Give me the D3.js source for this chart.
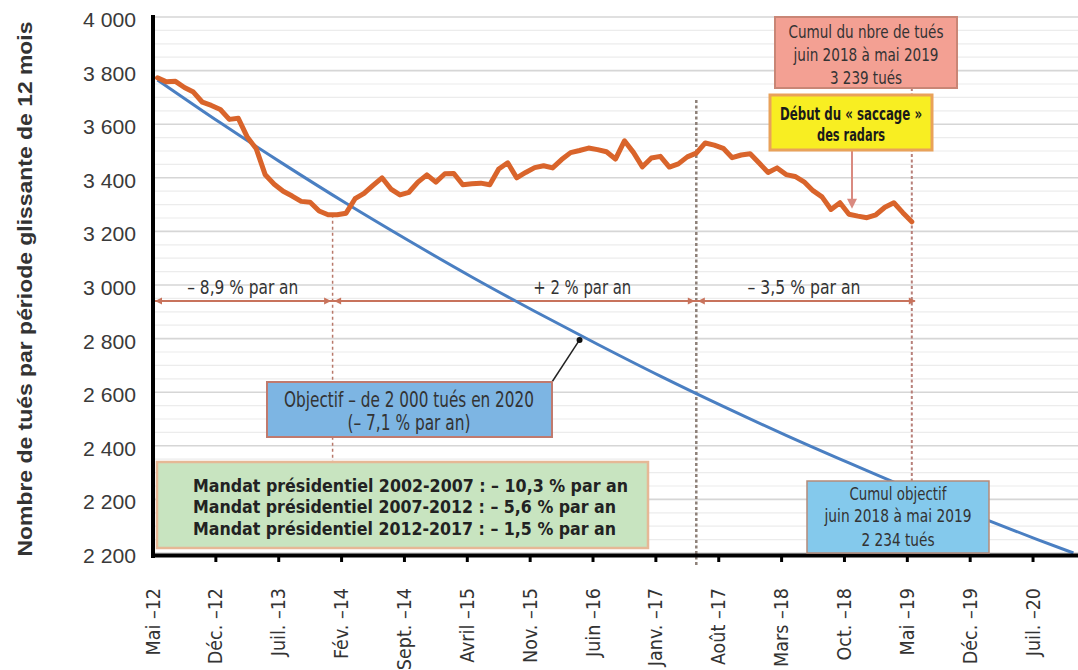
<!DOCTYPE html>
<html><head><meta charset="utf-8">
<script src="https://cdn.jsdelivr.net/npm/d3@7"></script>
<style>body{margin:0;background:#fff;} svg{display:block;}</style>
</head><body>
<script>
// ---------------- DATA ----------------
const categoryCount = 103; // Mai-12 .. Nov-20 (monthly categories)
const tickCategories = [0,7,14,21,28,35,42,49,56,63,70,77,84,91,98];
const tickLabels = ["Mai –12","Déc. –12","Juil. –13","Fév. –14","Sept. –14","Avril –15","Nov. –15","Juin –16","Janv. –17","Août –17","Mars –18","Oct. –18","Mai –19","Déc. –19","Juil. –20"];
const yTickValues = [4000,3800,3600,3400,3200,3000,2800,2600,2400,2200,2000];
const yTickLabels = ["4 000","3 800","3 600","3 400","3 200","3 000","2 800","2 600","2 400","2 200","2 200"];
// rolling 12-month number of road deaths, Mai-12 .. Mai-19
const tues = [3773,3758,3760,3737,3720,3682,3670,3655,3618,3622,3552,3508,3411,3376,3350,3332,3312,3309,3276,3262,
  3262,3268,3322,3342,3372,3400,3358,3336,3346,3384,3411,3384,3415,3416,3374,3378,3380,3374,3433,3456,
  3400,3420,3438,3445,3437,3468,3494,3502,3511,3505,3497,3470,3538,3495,3441,3474,3480,3440,3452,3478,
  3492,3530,3522,3510,3475,3485,3490,3455,3420,3437,3412,3405,3385,3352,3329,3282,3307,3264,3257,3251,
  3262,3290,3307,3270,3236];
// objective trajectory (– 7,1 % par an)
const objectifCategories = [0,7,14,21,28,35,42,49,56,63,70,77,84,91,98,102];
const objectifValues = [3765,3605,3452,3305,3165,3030,2902,2779,2660,2547,2439,2336,2236,2141,2050,2000];
// rate segments
const segmentBounds = [0,20,60.5,84.5];
const segmentLabelAt = [10,47.8,72.5];
const segmentLabels = ["– 8,9 % par an","+ 2 % par an","– 3,5 % par an"];
const mandatLines = ["Mandat présidentiel 2002-2007 : – 10,3 % par an","Mandat présidentiel 2007-2012 : – 5,6 % par an","Mandat présidentiel 2012-2017 : – 1,5 % par an"];
const cumulTuesLines = ["Cumul du nbre de tués","juin 2018 à mai 2019","3 239 tués"];
const saccageLines = ["Début du « saccage »","des radars"];
const objectifLines = ["Objectif – de 2 000 tués en 2020","(– 7,1 % par an)"];
const cumulObjLines = ["Cumul objectif","juin 2018 à mai 2019","2 234 tués"];

// ---------------- CHART ----------------
const W = 1078, H = 670;
const NARROW = "'Liberation Sans Narrow','DejaVu Sans Condensed','Arial Narrow',sans-serif";
const REG = "'Liberation Sans',Arial,sans-serif";
const svg = d3.select("body").append("svg").attr("width", W).attr("height", H);

const x = d3.scaleLinear().domain([0, categoryCount]).range([153, 153 + 8.98 * categoryCount]);
const xc = i => x(i + 0.5);
const y = d3.scaleLinear().domain([2000, 4000]).range([553, 17]);

// gridlines
const grid = svg.append("g");
d3.range(2000, 4001, 50).forEach(v => {
  const major = v % 200 === 0;
  grid.append("line").attr("x1", 155).attr("x2", W).attr("y1", y(v)).attr("y2", y(v))
    .attr("stroke", major ? "#d6d6d6" : "#ececec").attr("stroke-width", major ? 1.6 : 1.2);
});

function addText(g, px, py, str, o) {
  const t = g.append("text").attr("x", px).attr("y", py).text(str)
    .attr("font-family", o.family || NARROW).attr("font-size", o.size)
    .attr("font-weight", o.weight || "normal").attr("fill", o.fill || "#333")
    .attr("text-anchor", o.anchor || "middle").attr("dominant-baseline", "central");
  if (o.len) t.attr("textLength", o.len).attr("lengthAdjust", "spacingAndGlyphs");
  return t;
}

// y tick labels
yTickValues.forEach((v, k) => addText(svg, 136, y(v) + 3, yTickLabels[k], {size: 20, anchor: "end", family: REG, fill: "#3a3a3a", len: 53}));

// y title
svg.append("text").attr("transform", `translate(24,${289}) rotate(-90)`)
  .attr("text-anchor", "middle").attr("dominant-baseline", "central")
  .attr("font-family", REG).attr("font-weight", "bold").attr("font-size", 21).attr("fill", "#333")
  .attr("textLength", 535).attr("lengthAdjust", "spacingAndGlyphs")
  .text("Nombre de tués par période glissante de 12 mois");

// dashed verticals
const dashed = svg.append("g");
dashed.append("line").attr("x1", x(segmentBounds[1])).attr("x2", x(segmentBounds[1])).attr("y1", y(3262)).attr("y2", 462)
  .attr("stroke", "#b8786a").attr("stroke-width", 1.5).attr("stroke-dasharray", "3,3");
dashed.append("line").attr("x1", x(segmentBounds[2])).attr("x2", x(segmentBounds[2])).attr("y1", 100).attr("y2", 566)
  .attr("stroke", "#8d8078").attr("stroke-width", 2.5).attr("stroke-dasharray", "3,2.5");
dashed.append("line").attr("x1", x(segmentBounds[3])).attr("x2", x(segmentBounds[3])).attr("y1", 88).attr("y2", 481)
  .attr("stroke", "#b8807a").attr("stroke-width", 2).attr("stroke-dasharray", "3,2.5");

// rate arrow line
const arrowY = 301, AC = "#c8735c";
const ag = svg.append("g");
ag.append("line").attr("x1", 155).attr("x2", x(segmentBounds[3]) + 3).attr("y1", arrowY).attr("y2", arrowY)
  .attr("stroke", AC).attr("stroke-width", 2);
function head(tip, dir) {
  ag.append("path").attr("d", `M${tip},${arrowY} L${tip - dir * 7},${arrowY - 3.5} L${tip - dir * 7},${arrowY + 3.5}Z`).attr("fill", AC);
}
head(155, -1);
head(x(segmentBounds[1]) - 1.5, 1); head(x(segmentBounds[1]) + 1.5, -1);
head(x(segmentBounds[2]) - 1.5, 1); head(x(segmentBounds[2]) + 1.5, -1);
head(x(segmentBounds[3]) + 4, 1);
segmentLabels.forEach((s, k) => addText(svg, x(segmentLabelAt[k]), 287, s, {size: 20, len: [111, 98, 113][k]}));

// lines
const lineObj = d3.line().x((d, k) => xc(objectifCategories[k])).y(d => y(d)).curve(d3.curveMonotoneX);
svg.append("path").attr("d", lineObj(objectifValues)).attr("fill", "none")
  .attr("stroke", "#4a7fc2").attr("stroke-width", 3);
const lineTues = d3.line().x((d, i) => xc(i)).y(d => y(d));
svg.append("path").attr("d", lineTues(tues)).attr("fill", "none")
  .attr("stroke", "#d9642b").attr("stroke-width", 5).attr("stroke-linejoin", "round").attr("stroke-linecap", "round");

// axes
svg.append("line").attr("x1", 153).attr("x2", 153).attr("y1", 15).attr("y2", 558).attr("stroke", "#000").attr("stroke-width", 4);
svg.append("line").attr("x1", 151).attr("x2", W).attr("y1", 555.5).attr("y2", 555.5).attr("stroke", "#000").attr("stroke-width", 4);
tickCategories.forEach((c, k) => {
  if (c > 0) svg.append("line").attr("x1", x(c)).attr("x2", x(c)).attr("y1", 555).attr("y2", 562).attr("stroke", "#000").attr("stroke-width", 3);
  svg.append("text").attr("transform", `translate(${x(c)},588) rotate(-90)`)
    .attr("text-anchor", "end").attr("dominant-baseline", "central")
    .attr("font-family", NARROW).attr("font-size", 19.5).attr("fill", "#333").text(tickLabels[k]);
});

// boxes
function box(x0, y0, x1, y1, fill, stroke, sw) {
  svg.append("rect").attr("x", x0).attr("y", y0).attr("width", x1 - x0).attr("height", y1 - y0)
    .attr("fill", fill).attr("stroke", stroke).attr("stroke-width", sw);
}
// objective leader
svg.append("line").attr("x1", 552).attr("y1", 382).attr("x2", xc(47)).attr("y2", y(2795)).attr("stroke", "#222").attr("stroke-width", 1.5);
svg.append("circle").attr("cx", xc(47)).attr("cy", y(2795)).attr("r", 3).attr("fill", "#111");

box(267, 382, 552, 437, "#7db5e3", "#c07a6e", 2);
addText(svg, 409, 400, objectifLines[0], {size: 21, len: 250});
addText(svg, 409, 423, objectifLines[1], {size: 21, len: 123});

box(157, 462, 648, 548, "#c8e4c0", "#e6b896", 2.5);
mandatLines.forEach((s, k) => addText(svg, 193, 485 + k * 21.5, s, {size: 18.5, weight: "bold", anchor: "start", fill: "#222", len: [435, 423, 423][k]}));

box(775, 17, 957, 88, "#f3a093", "#c98676", 2);
cumulTuesLines.forEach((s, k) => addText(svg, 866, [31.7, 54, 77.3][k], s, {size: 18.5, len: [155, 145, 72][k]}));

// saccage arrow
const sx = 852;
svg.append("line").attr("x1", sx).attr("x2", sx).attr("y1", 150).attr("y2", 200).attr("stroke", "#d98a80").attr("stroke-width", 2);
svg.append("path").attr("d", `M${sx},${y(3262) - 6} L${sx - 5},${y(3262) - 16} L${sx + 5},${y(3262) - 16}Z`).attr("fill", "#d98a80");

box(770, 95, 932, 150, "#f8ee22", "#e9a25a", 3);
saccageLines.forEach((s, k) => addText(svg, 851, [113, 134][k], s, {size: 18.5, weight: "bold", fill: "#1a1a1a", len: [142, 68][k]}));

box(807, 481, 989, 553, "#84c9ec", "#b48a7a", 1.5);
cumulObjLines.forEach((s, k) => addText(svg, 898, [493, 515, 539][k], s, {size: 18.5, len: [97, 147, 73][k]}));
</script>
</body></html>
